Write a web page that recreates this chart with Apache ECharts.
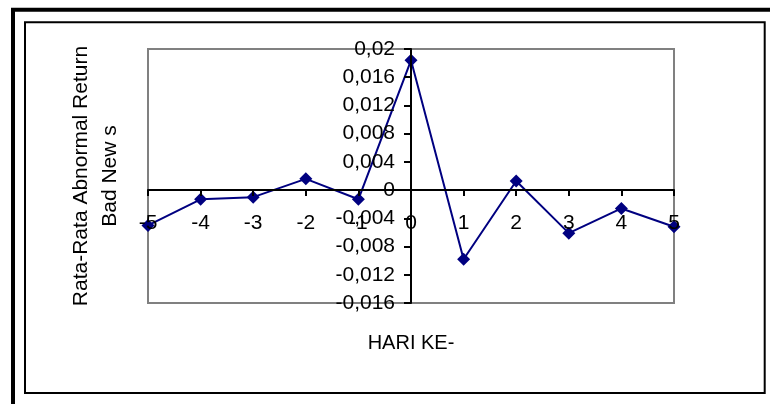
<!DOCTYPE html>
<html>
<head>
<meta charset="utf-8">
<script src="https://cdn.jsdelivr.net/npm/echarts@6/dist/echarts.min.js"></script>
<style>
html,body{margin:0;padding:0;background:#fff;}
#chart{width:770px;height:404px;}
</style>
</head>
<body>
<div id="chart"></div>
<script>
var days = [-5, -4, -3, -2, -1, 0, 1, 2, 3, 4, 5];
var badNewsReturn = [-0.0050, -0.0013, -0.0010, 0.0016, -0.0013, 0.0184, -0.0098, 0.0013, -0.0061, -0.0026, -0.0052];
var yTickLabels = ["-0,016", "-0,012", "-0,008", "-0,004", "0", "0,004", "0,008", "0,012", "0,016", "0,02"];
var xTickLabels = ["-5", "-4", "-3", "-2", "-1", "0", "1", "2", "3", "4", "5"];
var yTitle = "Rata-Rata Abnormal Return\nBad New s";
var xTitle = "HARI KE-";

var yMin = -0.016, yMax = 0.02, yStep = 0.004;
var FONT = "'Liberation Sans', Arial, sans-serif";

var chart = echarts.init(document.getElementById('chart'), null, {renderer: 'canvas'});
chart.setOption({
  backgroundColor: '#ffffff',
  animation: false,
  grid: {
    left: 148, right: 96, top: 49, bottom: 101,
    containLabel: false, outerBoundsMode: 'none',
    show: true, borderColor: '#808080', borderWidth: 2, backgroundColor: 'transparent'
  },
  xAxis: {
    type: 'value', position: 'bottom', offset: 0,
    min: days[0], max: days[days.length - 1], interval: 1,
    z: 3,
    axisLine: {onZero: false, lineStyle: {color: '#000', width: 2}},
    axisTick: {show: true, length: 6, lineStyle: {color: '#000', width: 2}},
    splitLine: {show: false},
    axisLabel: {
      margin: 23, color: '#000', fontSize: 21, fontFamily: FONT, hideOverlap: false,
      showMinLabel: true, showMaxLabel: true,
      formatter: function (v) { var i = days.indexOf(Math.round(v)); return i >= 0 ? xTickLabels[i] : ''; }
    },
    name: xTitle, nameLocation: 'middle', nameGap: 143,
    nameTextStyle: {color: '#000', fontSize: 20, fontFamily: FONT}
  },
  yAxis: {
    type: 'value', position: 'left', offset: 0,
    min: yMin, max: yMax, interval: yStep,
    z: 3,
    axisLine: {onZero: false, lineStyle: {color: '#000', width: 2}},
    axisTick: {show: true, length: 7, lineStyle: {color: '#000', width: 2}},
    splitLine: {show: false},
    axisLabel: {
      margin: 16, color: '#000', fontSize: 21, fontFamily: FONT, hideOverlap: false,
      showMinLabel: true, showMaxLabel: true,
      formatter: function (v) { var i = Math.round((v - yMin) / yStep); return yTickLabels[i] || ''; }
    },
    name: yTitle, nameLocation: 'middle', nameGap: 286, nameRotate: 90,
    nameTextStyle: {color: '#000', fontSize: 21, lineHeight: 29, fontFamily: FONT, align: 'center'}
  },
  series: [{
    type: 'line',
    data: days.map(function (d, i) { return [d, badNewsReturn[i]]; }),
    symbol: 'diamond', symbolSize: 13,
    lineStyle: {color: '#000080', width: 2},
    itemStyle: {color: '#000080'},
    z: 2
  }],
  graphic: [
    {type: 'rect', shape: {x: 13, y: 9.7, width: 800, height: 430}, style: {fill: 'none', stroke: '#000', lineWidth: 4}, silent: true},
    {type: 'rect', shape: {x: 25, y: 22.3, width: 739.7, height: 370.7}, style: {fill: 'none', stroke: '#000', lineWidth: 2}, silent: true}
  ]
});

// Move both axes (line, ticks, labels, name) to cross at the origin, as in the reference.
var origin = chart.convertToPixel({gridIndex: 0}, [0, 0]);
var corner = chart.convertToPixel({gridIndex: 0}, [days[0], yMin]);
chart.setOption({
  xAxis: {offset: -(corner[1] - origin[1])},
  yAxis: {offset: -(origin[0] - corner[0])}
});
</script>
</body>
</html>
